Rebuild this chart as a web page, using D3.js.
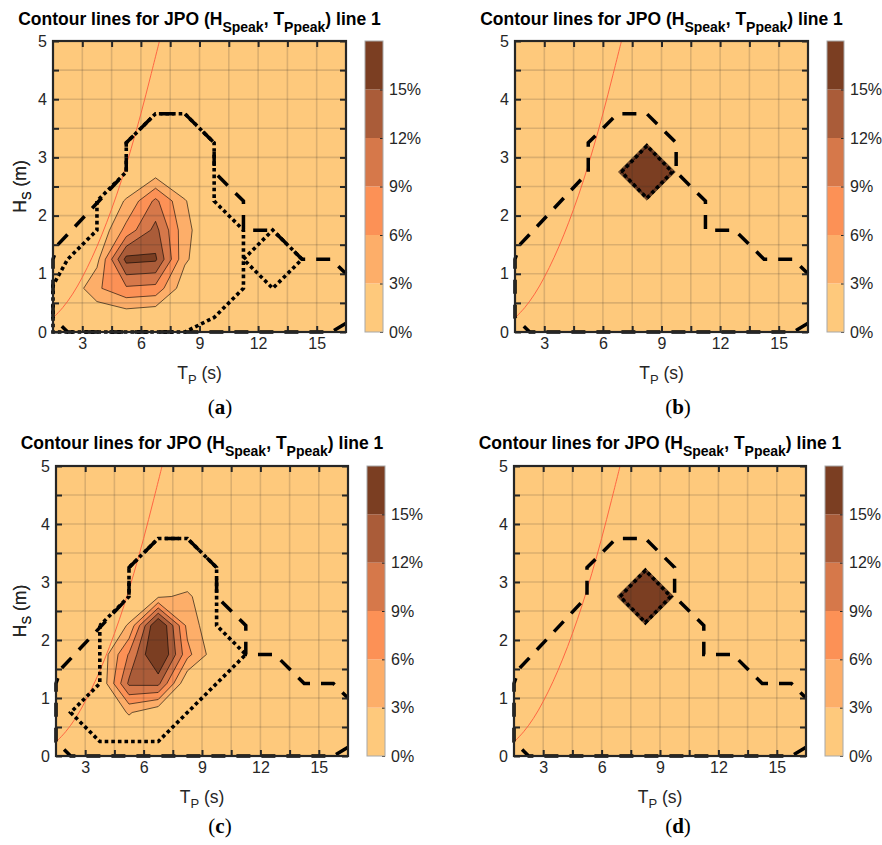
<!DOCTYPE html>
<html>
<head>
<meta charset="utf-8">
<title>Contour lines for JPO</title>
<script src="https://d3js.org/d3.v7.min.js"></script>
<style>
body { margin: 0; background: #fff; }
svg text { font-family: 'Liberation Sans', Arial, Helvetica, sans-serif; fill: #262626; }
.caption { font-family: 'Liberation Serif', 'Times New Roman', serif; }
</style>
</head>
<body>
<svg id="chart" width="882" height="845"></svg>
<script>
// contour levels (%) and colour of each band, 0-3 ... 15-18
var levels = [3, 6, 9, 12, 15];
var bandColors = ["#fec97c", "#fdae69", "#fc9156", "#d6784a", "#aa5c39", "#7b3e22"];
var cbTicks = [0, 3, 6, 9, 12, 15];
var tpTicks = [3, 4.5, 6, 7.5, 9, 10.5, 12, 13.5, 15];
var tpLabels = [3, 6, 9, 12, 15];
var hsTicks = [0, 0.5, 1, 1.5, 2, 2.5, 3, 3.5, 4, 4.5, 5];
var hsLabels = [0, 1, 2, 3, 4, 5];

// JPO (%) on the bin grid: Tp bins of 1.5 s from 1.5 s, Hs bins of 0.5 m
// row 0 = Hs 0.25 m, column 0 = Tp 2.25 s
var jpoA = [
  [0, 0,   0.7, 0,    0,   0, 0, 0, 0, 0],
  [0, 5.5, 8.5, 8,    1,   0, 0, 0, 0, 0],
  [0, 2,   16,  15.5, 3.5, 0, 0, 0, 0, 0],
  [0, 0,   7,   13,   4,   0, 0, 0, 0, 0],
  [0, 0,   3.3, 9.7,  3.2, 0, 0, 0, 0, 0],
  [0, 0,   0,   1.3,  0,   0, 0, 0, 0, 0],
  [0, 0,   0,   0,    0,   0, 0, 0, 0, 0],
  [0, 0,   0,   0,    0,   0, 0, 0, 0, 0],
  [0, 0,   0,   0,    0,   0, 0, 0, 0, 0],
  [0, 0,   0,   0,    0,   0, 0, 0, 0, 0]
];
var jpoB = [
  [0, 0, 0, 0, 0,   0, 0, 0, 0, 0],
  [0, 0, 0, 0, 0,   0, 0, 0, 0, 0],
  [0, 0, 0, 0, 0,   0, 0, 0, 0, 0],
  [0, 0, 0, 0, 0,   0, 0, 0, 0, 0],
  [0, 0, 0, 0, 0,   0, 0, 0, 0, 0],
  [0, 0, 0, 0, 100, 0, 0, 0, 0, 0],
  [0, 0, 0, 0, 0,   0, 0, 0, 0, 0],
  [0, 0, 0, 0, 0,   0, 0, 0, 0, 0],
  [0, 0, 0, 0, 0,   0, 0, 0, 0, 0],
  [0, 0, 0, 0, 0,   0, 0, 0, 0, 0]
];
var jpoC = [
  [0, 0,   0,    0,    0,   0,   0, 0, 0, 0],
  [0, 0,   3.3,  0.5,  0,   0,   0, 0, 0, 0],
  [0, 0,   12.6, 12.8, 0,   0,   0, 0, 0, 0],
  [0, 0.5, 9.3,  19.5, 6.9, 0.9, 0, 0, 0, 0],
  [0, 0,   3.3,  19,   5.1, 0,   0, 0, 0, 0],
  [0, 0,   0,    2.5,  3.6, 0,   0, 0, 0, 0],
  [0, 0,   0,    0,    0,   0,   0, 0, 0, 0],
  [0, 0,   0,    0,    0,   0,   0, 0, 0, 0],
  [0, 0,   0,    0,    0,   0,   0, 0, 0, 0],
  [0, 0,   0,    0,    0,   0,   0, 0, 0, 0]
];
var jpoD = jpoB;

// environmental contour, dashed, [Tp, Hs]
var lineDashed = [[16.5, 0.15], [15.75, 0], [2.25, 0], [1.5, 0.25], [1.5, 1.25], [1.75, 1.5],
  [5.25, 2.75], [5.25, 3.25], [6.75, 3.75], [8.25, 3.75], [9.75, 3.25], [9.75, 2.75],
  [11.25, 2.25], [11.25, 1.75], [12.75, 1.75], [14.25, 1.25], [15.75, 1.25], [16.5, 1.0]];
// dotted contours, [Tp, Hs]
var dottedA = [[3.75, 2.25], [3.75, 1.75], [2.25, 1.25], [1.5, 0.8], [1.5, 0], [8.25, 0],
  [9.75, 0.25], [11.25, 0.75], [11.25, 1.75], [9.75, 2.25], [9.75, 3.25], [8.25, 3.75],
  [6.75, 3.75], [5.25, 3.25], [5.25, 2.75], [3.75, 2.25]];
var dottedA2 = [[11.25, 1.25], [12.75, 1.75], [14.25, 1.25], [12.75, 0.75], [11.25, 1.25]];
var dottedB = [[6.95, 2.75], [8.25, 3.2], [9.55, 2.75], [8.25, 2.3], [6.95, 2.75]];
var dottedC = [[3.75, 2.25], [3.75, 1.25], [2.25, 0.75], [3.75, 0.25], [6.75, 0.25],
  [11.25, 1.75], [9.75, 2.25], [9.75, 3.25], [8.25, 3.75], [6.75, 3.75], [5.25, 3.25],
  [5.25, 2.75], [3.75, 2.25]];
// thin red steepness curve, [Tp, Hs]
var steepCurve = [[1.5, 0.24], [2, 0.42], [2.5, 0.65], [3, 0.94], [3.5, 1.28], [4, 1.67],
  [4.5, 2.11], [5, 2.6], [5.5, 3.15], [6, 3.75], [6.5, 4.4], [6.95, 5.0]];

var panels = [
  {tag: "a", x0: 53, x1: 346, y0: 41, y1: 332, cb0: 365, cb1: 383, jpo: jpoA, dotted: [dottedA, dottedA2], capX: 220, capY: 414, titleY: 25},
  {tag: "b", x0: 515, x1: 808, y0: 41, y1: 332, cb0: 827, cb1: 844, jpo: jpoB, dotted: [dottedB], capX: 678, capY: 414, titleY: 25},
  {tag: "c", x0: 56, x1: 348, y0: 466, y1: 756, cb0: 367, cb1: 385, jpo: jpoC, dotted: [dottedC], capX: 220, capY: 833, titleY: 449},
  {tag: "d", x0: 514, x1: 806, y0: 466, y1: 756, cb0: 825, cb1: 843, jpo: jpoD, dotted: [dottedB], capX: 678, capY: 833, titleY: 449}
];

var svg = d3.select("#chart");
var defs = svg.append("defs");

panels.forEach(drawPanel);

function drawPanel(p) {
    var g = svg.append("g");
    var x = d3.scaleLinear().domain([1.5, 16.5]).range([p.x0, p.x1]);
    var y = d3.scaleLinear().domain([0, 5]).range([p.y1, p.y0]);

    defs.append("clipPath").attr("id", "clip-" + p.tag)
        .append("rect")
        .attr("x", p.x0).attr("y", p.y0)
        .attr("width", p.x1 - p.x0).attr("height", p.y1 - p.y0);

    var plot = g.append("g").attr("clip-path", "url(#clip-" + p.tag + ")");

    plot.append("rect")
        .attr("x", p.x0).attr("y", p.y0)
        .attr("width", p.x1 - p.x0).attr("height", p.y1 - p.y0)
        .attr("fill", bandColors[0]);

    // filled contours of the grid, grid coords -> data -> pixels
    var nx = p.jpo[0].length, ny = p.jpo.length;
    var values = [].concat.apply([], p.jpo);
    var contours = d3.contours().size([nx, ny]).thresholds(levels)(values);
    var proj = d3.geoTransform({
        point: function(gx, gy) {
            this.stream.point(x(1.5 + gx * 1.5), y(gy * 0.5));
        }
    });
    var path = d3.geoPath(proj);

    plot.selectAll("path.cf")
        .data(contours)
        .join("path")
        .attr("class", "cf")
        .attr("d", path)
        .attr("fill", function(d, i) { return bandColors[i + 1]; })
        .attr("stroke", "#000")
        .attr("stroke-width", 0.6)
        .attr("stroke-linejoin", "round");

    // grid
    plot.selectAll("line.gx")
        .data(tpTicks)
        .join("line")
        .attr("x1", d => x(d)).attr("x2", d => x(d))
        .attr("y1", p.y0).attr("y2", p.y1)
        .attr("stroke", "#262626").attr("stroke-opacity", 0.16).attr("stroke-width", 1.6);
    plot.selectAll("line.gy")
        .data(hsTicks)
        .join("line")
        .attr("y1", d => y(d)).attr("y2", d => y(d))
        .attr("x1", p.x0).attr("x2", p.x1)
        .attr("stroke", "#262626").attr("stroke-opacity", 0.16).attr("stroke-width", 1.6);

    var line = d3.line().x(d => x(d[0])).y(d => y(d[1]));

    plot.append("path")
        .attr("d", line.curve(d3.curveCatmullRom)(steepCurve))
        .attr("fill", "none")
        .attr("stroke", "#ff5a3c")
        .attr("stroke-width", 0.9);
    line.curve(d3.curveLinear);

    // thick lines are not clipped: their stroke runs over the box like in the original
    var lines = g.append("g");
    lines.append("path")
        .attr("d", line(lineDashed))
        .attr("fill", "none")
        .attr("stroke", "#000")
        .attr("stroke-width", 3.5)
        .attr("stroke-dasharray", "14,11");

    p.dotted.forEach(function(pts) {
        lines.append("path")
            .attr("d", line(pts))
            .attr("fill", "none")
            .attr("stroke", "#000")
            .attr("stroke-width", 3.6)
            .attr("stroke-dasharray", "3.6,3");
    });

    // axes box and inward ticks on all sides
    var ax = g.append("g");
    ax.append("g").attr("transform", "translate(0," + p.y1 + ")")
        .call(d3.axisBottom(x).tickValues(tpTicks).tickSize(-6).tickPadding(6)
            .tickFormat(d => tpLabels.indexOf(d) >= 0 ? d : ""));
    ax.append("g").attr("transform", "translate(0," + p.y0 + ")")
        .call(d3.axisTop(x).tickValues(tpTicks).tickSize(-6).tickFormat(""));
    ax.append("g").attr("transform", "translate(" + p.x0 + ",0)")
        .call(d3.axisLeft(y).tickValues(hsTicks).tickSize(-6).tickPadding(6)
            .tickFormat(d => hsLabels.indexOf(d) >= 0 ? d : ""));
    ax.append("g").attr("transform", "translate(" + p.x1 + ",0)")
        .call(d3.axisRight(y).tickValues(hsTicks).tickSize(-6).tickFormat(""));
    ax.selectAll(".domain").remove();
    ax.selectAll(".tick line").attr("stroke", "#262626").attr("stroke-width", 2);
    ax.selectAll(".tick text").style("font-size", "16px").attr("fill", "#262626");
    ax.append("rect")
        .attr("x", p.x0).attr("y", p.y0)
        .attr("width", p.x1 - p.x0).attr("height", p.y1 - p.y0)
        .attr("fill", "none").attr("stroke", "#262626").attr("stroke-width", 2.2);

    // axis labels
    var xl = g.append("text")
        .attr("x", (p.x0 + p.x1) / 2).attr("y", p.y1 + 47)
        .attr("text-anchor", "middle").style("font-size", "17.5px");
    xl.append("tspan").text("T");
    xl.append("tspan").attr("dy", 5).style("font-size", "13px").text("P");
    xl.append("tspan").attr("dy", -5).text(" (s)");

    var yl = g.append("text")
        .attr("transform", "translate(26," + (p.y0 + p.y1) / 2 + ") rotate(-90)")
        .attr("text-anchor", "middle").style("font-size", "17.5px");
    yl.append("tspan").text("H");
    yl.append("tspan").attr("dy", 5).style("font-size", "13px").text("S");
    yl.append("tspan").attr("dy", -5).text(" (m)");

    // title
    var t = g.append("text")
        .attr("x", (p.x0 + p.x1) / 2).attr("y", p.titleY)
        .attr("text-anchor", "middle")
        .style("font-size", "17.5px").style("font-weight", "bold").style("fill", "#000");
    t.append("tspan").text("Contour lines for JPO (H");
    t.append("tspan").attr("dy", 6.5).style("font-size", "14px").text("Speak");
    t.append("tspan").attr("dy", -6.5).text(", T");
    t.append("tspan").attr("dy", 6.5).style("font-size", "14px").text("Ppeak");
    t.append("tspan").attr("dy", -6.5).text(") line 1");

    // colorbar
    var cb = d3.scaleLinear().domain([0, 18]).range([p.y1, p.y0]);
    var cbg = g.append("g");
    cbg.selectAll("rect.band")
        .data(bandColors)
        .join("rect")
        .attr("x", p.cb0).attr("width", p.cb1 - p.cb0)
        .attr("y", (d, i) => cb((i + 1) * 3))
        .attr("height", (d, i) => cb(i * 3) - cb((i + 1) * 3))
        .attr("fill", d => d);
    cbg.append("g").attr("transform", "translate(" + p.cb1 + ",0)")
        .call(d3.axisRight(cb).tickValues(cbTicks).tickSize(-3).tickPadding(6)
            .tickFormat(d => d + "%"));
    cbg.select(".domain").remove();
    cbg.selectAll(".tick line").attr("stroke", "#262626").attr("stroke-width", 1);
    cbg.selectAll(".tick text").style("font-size", "16px").attr("fill", "#262626");
    cbg.append("rect")
        .attr("x", p.cb0).attr("y", p.y0)
        .attr("width", p.cb1 - p.cb0).attr("height", p.y1 - p.y0)
        .attr("fill", "none").attr("stroke", "#a8a8a8").attr("stroke-width", 1);

    // panel caption
    var c = g.append("text").attr("class", "caption")
        .attr("x", p.capX).attr("y", p.capY)
        .attr("text-anchor", "middle").style("font-size", "21px").style("fill", "#000");
    c.append("tspan").text("(");
    c.append("tspan").style("font-weight", "bold").text(p.tag);
    c.append("tspan").text(")");
}
</script>
</body>
</html>
